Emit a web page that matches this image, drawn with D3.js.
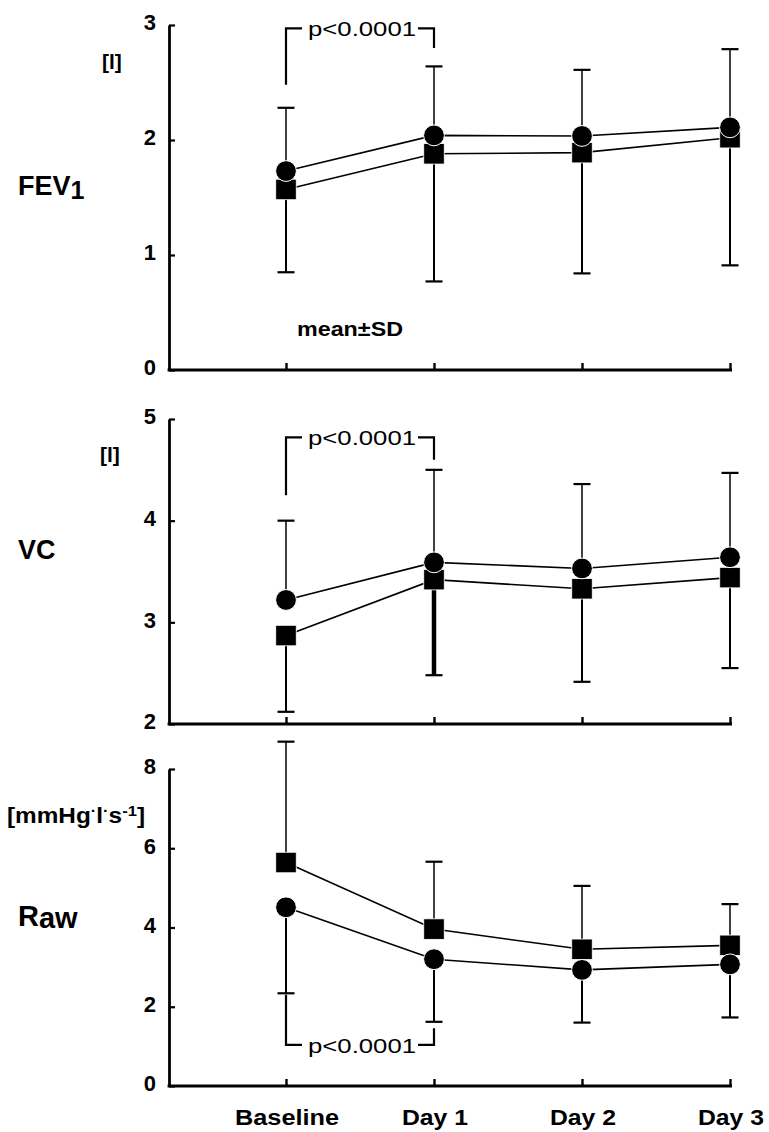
<!DOCTYPE html>
<html>
<head>
<meta charset="utf-8">
<script src="https://cdn.jsdelivr.net/npm/d3@7"></script>
<style>
  html, body { margin: 0; padding: 0; background: #fff; }
  svg { display: block; }
  text { font-family: "Liberation Sans", Arial, Helvetica, sans-serif; fill: #000; }
</style>
</head>
<body>
<svg id="chart" width="769" height="1132"></svg>
<script>
// Time points
const categories = ["Baseline", "Day 1", "Day 2", "Day 3"];

// FEV1 [l]
const fevCircle   = [1.73, 2.04, 2.035, 2.11];
const fevCircleSD = [0.55, 0.60, 0.575, 0.68];
const fevSquare   = [1.57, 1.88, 1.89, 2.02];
const fevSquareSD = [0.72, 1.11, 1.05, 1.11];
const fevTicks    = [0, 1, 2, 3];

// VC [l]
const vcCircle   = [3.22, 3.59, 3.53, 3.64];
const vcCircleSD = [0.78, 0.91, 0.83, 0.83];
const vcSquare   = [2.87, 3.42, 3.33, 3.44];
const vcSquareSD = [0.75, 0.94, 0.915, 0.89];
const vcTicks    = [2, 3, 4, 5];

// Raw [mmHg·l·s-1]
const rawCircle   = [4.51, 3.20, 2.93, 3.07];
const rawCircleSD = [2.17, 1.58, 1.33, 1.34];
const rawSquare   = [5.64, 3.96, 3.45, 3.55];
const rawSquareSD = [3.05, 1.70, 1.60, 1.04];
const rawTicks    = [0, 2, 4, 6, 8];

// Significance brackets (Baseline vs Day 1): line level, left end, right end
const fevBracket = [2.97, 2.48, 2.80];
const vcBracket  = [4.82, 4.25, 4.60];
const rawBracket = [1.04, 2.30, 1.46];
const pLabel = "p<0.0001";

const svg = d3.select("#chart");
const axisX0 = 169, axisX1 = 731;
const x = d3.scalePoint().domain(categories).range([286, 730]);

const panels = [
  { key: "fev", domain: [0, 3], range: [370, 25], ticks: fevTicks,
    circle: fevCircle, circleSD: fevCircleSD, square: fevSquare, squareSD: fevSquareSD,
    circleUp: true, bracket: fevBracket, xLabels: false },
  { key: "vc", domain: [2, 5], range: [724, 419], ticks: vcTicks,
    circle: vcCircle, circleSD: vcCircleSD, square: vcSquare, squareSD: vcSquareSD,
    circleUp: true, bracket: vcBracket, xLabels: false },
  { key: "raw", domain: [0, 8], range: [1086, 769], ticks: rawTicks,
    circle: rawCircle, circleSD: rawCircleSD, square: rawSquare, squareSD: rawSquareSD,
    circleUp: false, bracket: rawBracket, xLabels: true }
];

function stretchedText(g, str, cx, baseline, opts) {
  const t = g.append("text")
    .attr("x", cx).attr("y", baseline)
    .attr("text-anchor", "middle")
    .attr("font-size", opts.size)
    .attr("font-weight", opts.weight || "normal")
    .text(str);
  if (opts.length) t.attr("textLength", opts.length).attr("lengthAdjust", "spacingAndGlyphs");
  return t;
}

panels.forEach(p => {
  const y = d3.scaleLinear().domain(p.domain).range(p.range);
  const g = svg.append("g").attr("class", "panel-" + p.key);

  // y axis: ticks point inward, labels on the left
  const yAxis = d3.axisLeft(y).tickValues(p.ticks).tickFormat(d3.format("d"))
    .tickSizeInner(-6).tickSizeOuter(0).tickPadding(13);
  const ya = g.append("g").attr("transform", `translate(${axisX0},0)`).call(yAxis);
  ya.select(".domain").attr("stroke", "#000").attr("stroke-width", 2.8);
  ya.selectAll(".tick line").attr("stroke", "#000").attr("stroke-width", 2.2);
  ya.selectAll(".tick text")
    .attr("font-size", 22).attr("font-weight", "bold").attr("dy", "0.22em")
    .attr("font-family", "Liberation Sans, Arial, sans-serif");

  // x axis baseline spanning the whole panel width
  const yBase = p.range[0];
  g.append("line")
    .attr("x1", axisX0 - 1.4).attr("x2", axisX1 + 1)
    .attr("y1", yBase).attr("y2", yBase)
    .attr("stroke", "#000").attr("stroke-width", 2.8);
  const xAxis = d3.axisBottom(x).tickSizeInner(-7).tickSizeOuter(0).tickFormat(() => "");
  const xa = g.append("g").attr("transform", `translate(0,${yBase})`).call(xAxis);
  xa.select(".domain").remove();
  xa.selectAll(".tick line").attr("stroke", "#000").attr("stroke-width", 2.4);
  xa.selectAll(".tick text").remove();
  if (p.xLabels) {
    categories.forEach(c => {
      const w = c === "Baseline" ? 104 : 66;
      stretchedText(g, c, x(c) + 1, yBase + 39, { size: 22, weight: "bold", length: w });
    });
  }

  // error bars: the upper series extends upward, the lower one downward
  const bars = [];
  categories.forEach((c, i) => {
    const cUp = p.circleUp;
    bars.push({ c, i, mean: p.circle[i], end: p.circle[i] + (cUp ? 1 : -1) * p.circleSD[i], up: cUp });
    bars.push({ c, i, mean: p.square[i], end: p.square[i] + (cUp ? -1 : 1) * p.squareSD[i], up: !cUp });
  });
  const bg = g.append("g").attr("class", "errorbars");
  bars.forEach(b => {
    const heavy = p.key === "vc" && b.i === 1 && !b.up;
    const w = heavy ? 4.5 : (b.up ? 1.5 : 2.0);
    bg.append("line")
      .attr("x1", x(b.c)).attr("x2", x(b.c))
      .attr("y1", y(b.mean)).attr("y2", y(b.end))
      .attr("stroke", "#000").attr("stroke-width", w);
    bg.append("line")
      .attr("x1", x(b.c) - 8.5).attr("x2", x(b.c) + 8.5)
      .attr("y1", y(b.end)).attr("y2", y(b.end))
      .attr("stroke", "#000").attr("stroke-width", 2.2);
  });

  // connecting lines
  const line = d3.line().x((d, i) => x(categories[i])).y(d => y(d));
  [p.square, p.circle].forEach(s => {
    g.append("path").datum(s).attr("d", line)
      .attr("fill", "none").attr("stroke", "#000").attr("stroke-width", 1.6);
  });

  // markers: filled squares, then filled circles on top
  const side = 20.5;
  g.selectAll("rect.sq").data(p.square).join("rect").attr("class", "sq")
    .attr("x", (d, i) => x(categories[i]) - side / 2)
    .attr("y", d => y(d) - side / 2)
    .attr("width", side).attr("height", side)
    .attr("fill", "#000").attr("stroke", "#fff").attr("stroke-width", 0.8);
  g.selectAll("circle.ci").data(p.circle).join("circle").attr("class", "ci")
    .attr("cx", (d, i) => x(categories[i]))
    .attr("cy", d => y(d))
    .attr("r", 10.4)
    .attr("fill", "#000").attr("stroke", "#fff").attr("stroke-width", 1);

  // significance bracket between Baseline and Day 1
  const [lvl, leftEnd, rightEnd] = p.bracket;
  const xl = x(categories[0]), xr = x(categories[1]);
  const yl = y(lvl);
  const textW = 108;
  const tx0 = (xl + xr) / 2 - textW / 2 - 4, tx1 = (xl + xr) / 2 + textW / 2 + 4;
  const bracketPath = d3.path();
  bracketPath.moveTo(xl, y(leftEnd)); bracketPath.lineTo(xl, yl); bracketPath.lineTo(tx0, yl);
  bracketPath.moveTo(tx1, yl); bracketPath.lineTo(xr, yl); bracketPath.lineTo(xr, y(rightEnd));
  g.append("path").attr("d", bracketPath.toString())
    .attr("fill", "none").attr("stroke", "#000").attr("stroke-width", 2.2);
  stretchedText(g, pLabel, (xl + xr) / 2 + 2, yl + 8, { size: 21, length: textW });
});

// mean±SD note in the FEV1 panel
{
  const yF = d3.scaleLinear().domain([0, 3]).range([370, 25]);
  stretchedText(svg, "mean±SD", (x("Baseline") + x("Day 1")) / 2 - 10, yF(0.3), { size: 21, weight: "bold", length: 106 });
}

// panel titles and units
function label(txt, xPos, yPos, size, sub, subSize, subDy) {
  const t = svg.append("text").attr("x", xPos).attr("y", yPos)
    .attr("font-size", size).attr("font-weight", "bold").text(txt);
  if (sub) t.append("tspan").attr("font-size", subSize).attr("dy", subDy).text(sub);
  return t;
}
label("FEV", 18, 195, 27, "1", 25, 4);
label("VC", 18, 559, 27);
label("R", 18, 926, 29, "aw", 29, 2);

svg.append("text").attr("x", 102).attr("y", 69).attr("font-size", 21).attr("font-weight", "bold").text("[l]");
svg.append("text").attr("x", 100).attr("y", 462).attr("font-size", 21).attr("font-weight", "bold").text("[l]");

const unit = svg.append("text").attr("x", 7).attr("y", 823).attr("font-size", 22).attr("font-weight", "bold")
  .attr("textLength", 138).attr("lengthAdjust", "spacingAndGlyphs");
unit.append("tspan").text("[mmHg");
unit.append("tspan").attr("font-size", 15).attr("dy", -7).text("·");
unit.append("tspan").attr("dy", 7).text("l");
unit.append("tspan").attr("font-size", 15).attr("dy", -7).text("·");
unit.append("tspan").attr("dy", 7).text("s");
unit.append("tspan").attr("font-size", 15).attr("dy", -7).text("-1");
unit.append("tspan").attr("dy", 7).text("]");
</script>
</body>
</html>
